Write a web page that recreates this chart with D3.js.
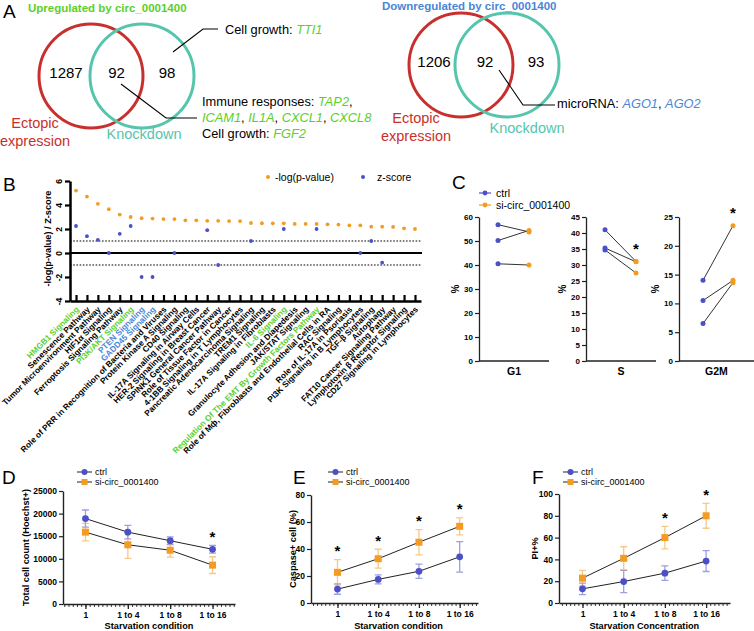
<!DOCTYPE html>
<html><head><meta charset="utf-8">
<script src="https://cdn.jsdelivr.net/npm/d3@7"></script>
<style>
body{margin:0;background:#fff;}
svg{display:block;font-family:"Liberation Sans",Arial,Helvetica,sans-serif;}
</style></head><body>
<svg id="fig" width="754" height="631"></svg>
<script>
// ================= DATA =================
const vennSetNames = ["Ectopic", "expression", "Knockdown"];
const vennUpCounts = [1287, 92, 98];
const vennDownCounts = [1206, 92, 93];
const upTitle = "Upregulated by circ_0001400";
const downTitle = "Downregulated by circ_0001400";
const upOnlyGenes = ["TTI1"];
const upImmuneGenes = ["TAP2", "ICAM1", "IL1A", "CXCL1", "CXCL8"];
const upGrowthGenes = ["FGF2"];
const downMirnaGenes = ["AGO1", "AGO2"];

const pathways = [
  "HMGB1 Signaling", "Senescence Pathway", "Tumor Microenvironment Pathway", "HIF1\u03b1 Signaling",
  "Ferroptosis Signaling Pathway", "PI3K/AKT Signaling", "PTEN Signaling", "GADD45 Signaling",
  "Role of PRR in Recognition of Bacteria and Viruses", "Protein Kinase A Signaling", "CD40 Signaling",
  "IL-17A Signaling in Airway Cells", "HER-2 Signaling in Breast Cancer", "SPINK1 General Cancer Pathway",
  "Role of Tissue Factor in Cancer", "4-1BB Signaling in T Lymphocytes", "Pancreatic Adenocarcinoma Signaling",
  "TREM1 Signaling", "IL-17A Signaling in Fibroblasts", "IL-6 Signaling", "Granulocyte Adhesion and Diapedesis",
  "JAK/STAT Signaling", "Regulation Of The EMT By Growth Factors Pathway",
  "Role of M\u0444, Fibroblasts and Endothelial Cells in RA", "RAC Signaling", "Role of IL-17A in Psoriasis",
  "PI3K Signaling in B Lymphocytes", "TGF-\u03b2 Signaling", "Autophagy", "FAT10 Cancer Signaling Pathway",
  "Lymphotoxin \u03b2 Receptor Signaling", "CD27 Signaling in Lymphocytes"
];
const pathwayGroup = ["up","","","","","up","down","down","","","","","","","","","","","","up","","","up","","","","","","","","",""];
const negLogP = [5.2, 4.7, 4.1, 3.65, 3.2, 3.0, 2.9, 2.87, 2.83, 2.83, 2.72, 2.72, 2.68, 2.68, 2.66, 2.66,
                 2.5, 2.48, 2.47, 2.47, 2.42, 2.42, 2.42, 2.39, 2.37, 2.31, 2.31, 2.19, 2.19, 2.17, 2.06, 2.0];
const zScore = [2.25, 1.4, 1.1, 0, 1.6, 2.25, -2, -2, null, 0, null, null, 1.9, -1, null, null,
                1.0, null, null, 2.0, null, null, 2.0, null, null, null, 0, 1.0, -0.8, null, null, null];
const bYTicks = [-4, -2, 0, 2, 4, 6];
const bThresholds = [1, -1];

const groups = ["ctrl", "si-circ_0001400"];
const phases = ["G1", "S", "G2M"];
const g1Ctrl = [56.8, 50.2, 40.5];
const g1Si = [53.8, 54.4, 40.0];
const sCtrl = [41.0, 35.3, 34.7];
const sSi = [31.1, 31.0, 27.5];
const g2mCtrl = [14.0, 10.5, 6.5];
const g2mSi = [23.5, 14.0, 13.6];
const phaseMax = [60, 45, 25];
const phaseStep = [10, 5, 5];
const phaseStar = [false, true, true];

const conditions = ["1", "1 to 4", "1 to 8", "1 to 16"];
const dCtrlMean = [18900, 15900, 14000, 12100];
const dCtrlSd = [1900, 1500, 850, 850];
const dSiMean = [15900, 13100, 11900, 8600];
const dSiSd = [1950, 3000, 1550, 1850];
const dStars = [false, false, false, true];

const eCtrlMean = [10.3, 17.5, 23.5, 34.2];
const eCtrlSd = [3.8, 3.4, 5.3, 11.3];
const eSiMean = [22.7, 32.8, 45.0, 56.8];
const eSiSd = [9.4, 7.0, 9.3, 6.3];
const eStars = [true, true, true, true];

const fCtrlMean = [13.0, 19.7, 27.4, 38.5];
const fCtrlSd = [5.3, 10.2, 6.7, 9.6];
const fSiMean = [22.8, 41.0, 60.0, 80.0];
const fSiSd = [7.2, 10.6, 10.3, 11.4];
const fStars = [false, false, true, true];

// ================= STYLE =================
const BLUE = "#4b50c8", ORANGE = "#f39b22", GREEN = "#5bd02b", LBLUE = "#4a86d6",
      RED = "#c8302d", TEAL = "#55c6ad", AX = "#222";

const svg = d3.select("#fig");

function txt(g, x, y, s, o = {}) {
  const t = g.append("text").attr("x", x).attr("y", y).text(s)
    .attr("font-size", o.size || 12).attr("fill", o.fill || "#000")
    .attr("font-weight", o.weight || "normal").attr("text-anchor", o.anchor || "start");
  if (o.style) t.attr("font-style", o.style);
  if (o.transform) t.attr("transform", o.transform);
  return t;
}
function rich(g, x, y, parts, size) {
  const t = g.append("text").attr("x", x).attr("y", y).attr("font-size", size);
  parts.forEach(p => t.append("tspan").text(p[0]).attr("fill", p[1] || "#000")
    .attr("font-style", p[1] ? "italic" : "normal"));
  return t;
}
function geneParts(list, color) {
  const out = [];
  list.forEach((gname, i) => { if (i) out.push([", "]); out.push([gname, color]); });
  return out;
}

// panel letters
[["A", 3, 18], ["B", 3, 191], ["C", 452, 189], ["D", 2, 484], ["E", 293, 484], ["F", 532, 484]]
  .forEach(([l, x, y]) => txt(svg, x, y, l, { size: 19 }));

// ================= PANEL A =================
function venn(cfg) {
  const g = svg.append("g");
  g.append("circle").attr("cx", cfg.c1).attr("cy", cfg.cy).attr("r", cfg.r)
    .attr("fill", "none").attr("stroke", RED).attr("stroke-width", 3);
  g.append("circle").attr("cx", cfg.c2).attr("cy", cfg.cy).attr("r", cfg.r)
    .attr("fill", "none").attr("stroke", TEAL).attr("stroke-width", 3);
  const cx = d3.scalePoint().domain([0, 1, 2]).range(cfg.countX);
  cfg.counts.forEach((c, i) => txt(g, cx(i), cfg.cy + 2, c, { size: 15, anchor: "middle" }));
  txt(g, cfg.ectX, cfg.ectY, vennSetNames[0], { size: 14.5, anchor: "middle", fill: RED });
  txt(g, cfg.ectX, cfg.ectY + 18, vennSetNames[1], { size: 14.5, anchor: "middle", fill: RED });
  txt(g, cfg.kdX, cfg.kdY, vennSetNames[2], { size: 14.5, anchor: "middle", fill: TEAL });
  txt(g, cfg.titleX, cfg.titleY, cfg.title, { size: 11.5, weight: "bold", fill: cfg.titleColor });
  return g;
}
const gUp = venn({ c1: 91, c2: 142, cy: 76, r: 52, counts: vennUpCounts, countX: [66, 167],
  ectX: 35, ectY: 128, kdX: 144, kdY: 139, title: upTitle, titleX: 28, titleY: 12, titleColor: GREEN });
const gDown = venn({ c1: 461, c2: 507, cy: 65, r: 52, counts: vennDownCounts, countX: [434, 536],
  ectX: 416, ectY: 123, kdX: 527, kdY: 133, title: downTitle, titleX: 382, titleY: 10, titleColor: LBLUE });

const callout = d3.line();
gUp.append("path").attr("d", callout([[173, 52], [203, 29], [218, 29]])).attr("fill", "none").attr("stroke", "#000").attr("stroke-width", 1.1);
gUp.append("path").attr("d", callout([[121, 84], [166, 118], [197, 118]])).attr("fill", "none").attr("stroke", "#000").attr("stroke-width", 1.1);
gDown.append("path").attr("d", callout([[499, 70], [523, 105], [555, 105]])).attr("fill", "none").attr("stroke", "#000").attr("stroke-width", 1.1);
rich(gUp, 225, 34, [["Cell growth: "]].concat(geneParts(upOnlyGenes, GREEN)), 12.8);
rich(gUp, 202, 106, [["Immune responses: "]].concat(geneParts(upImmuneGenes.slice(0, 1), GREEN), [[","]]), 12.8);
rich(gUp, 202, 122, geneParts(upImmuneGenes.slice(1), GREEN), 12.8);
rich(gUp, 202, 138, [["Cell growth: "]].concat(geneParts(upGrowthGenes, GREEN)), 12.8);
rich(gDown, 557, 108, [["microRNA: "]].concat(geneParts(downMirnaGenes, LBLUE)), 12.8);

// ================= PANEL B =================
const gB = svg.append("g");
const bX = d3.scalePoint().domain(pathways).range([70, 421]).padding(0.55);
const bY = d3.scaleLinear().domain([-4, 6]).range([301, 181]);

bThresholds.forEach(v => gB.append("line").attr("x1", 70).attr("x2", 422).attr("y1", bY(v)).attr("y2", bY(v))
  .attr("stroke", "#000").attr("stroke-width", 1.2).attr("stroke-dasharray", "1.6,1.6"));
gB.append("line").attr("x1", 70).attr("x2", 422).attr("y1", bY(0)).attr("y2", bY(0))
  .attr("stroke", "#000").attr("stroke-width", 2);

const bYAxis = gB.append("g").attr("transform", "translate(70,0)")
  .call(d3.axisLeft(bY).tickValues(bYTicks).tickSize(5).tickSizeOuter(0).tickFormat(d => String(d)));
bYAxis.attr("font-family", null).attr("font-size", null);
bYAxis.select(".domain").attr("stroke-width", 2.5);
bYAxis.selectAll(".tick line").attr("stroke-width", 2.2);
bYAxis.selectAll(".tick text").attr("x", 0).attr("y", -8).attr("dy", 0)
  .attr("transform", "rotate(-90)").attr("text-anchor", "middle")
  .attr("font-size", 8.5).attr("font-weight", "bold");
txt(gB, 0, 0, "-log(p-value) / Z-score", { size: 9.2, weight: "bold", anchor: "middle",
  transform: `translate(51,${bY(1.2)}) rotate(-90)` });

const bXAxis = gB.append("g").attr("transform", `translate(0,${bY(-4)})`)
  .call(d3.axisBottom(bX).tickSize(-6).tickSizeOuter(0));
bXAxis.attr("font-family", null).attr("font-size", null);
bXAxis.select(".domain").attr("stroke-width", 2.5);
bXAxis.selectAll(".tick line").attr("stroke-width", 2.2);
bXAxis.selectAll(".tick text").attr("y", 0).attr("dy", 0)
  .attr("transform", "translate(3,9) rotate(-45)").attr("text-anchor", "end")
  .attr("font-size", 8.3).attr("font-weight", "bold")
  .attr("fill", (d, i) => pathwayGroup[i] === "up" ? GREEN : pathwayGroup[i] === "down" ? LBLUE : "#000");

gB.selectAll(".pv").data(negLogP).join("circle").attr("class", "pv")
  .attr("cx", (d, i) => bX(pathways[i])).attr("cy", d => bY(d)).attr("r", 1.9).attr("fill", ORANGE);
gB.selectAll(".zs").data(zScore.map((v, i) => [i, v]).filter(d => d[1] !== null)).join("circle").attr("class", "zs")
  .attr("cx", d => bX(pathways[d[0]])).attr("cy", d => bY(d[1])).attr("r", 1.9).attr("fill", BLUE);

gB.append("circle").attr("cx", 268).attr("cy", 177).attr("r", 2).attr("fill", ORANGE);
txt(gB, 275, 181, "-log(p-value)", { size: 10.5 });
gB.append("circle").attr("cx", 363).attr("cy", 177).attr("r", 2).attr("fill", BLUE);
txt(gB, 377, 181, "z-score", { size: 10.5 });

// ================= PANEL C =================
const gC = svg.append("g");
// legend
[[BLUE, 193, groups[0]], [ORANGE, 205, groups[1]]].forEach(([c, y, s]) => {
  gC.append("line").attr("x1", 479).attr("x2", 491).attr("y1", y).attr("y2", y).attr("stroke", c).attr("stroke-width", 1.2);
  gC.append("circle").attr("cx", 485).attr("cy", y).attr("r", 2.4).attr("fill", c);
  txt(gC, 496, y + 4, s, { size: 10.5 });
});
const cLayout = [
  { axisX: 479, xEnd: 549, pts: [498, 529] },
  { axisX: 586, xEnd: 656, pts: [605, 636] },
  { axisX: 679, xEnd: 754, pts: [703, 733] }
];
const cData = [[g1Ctrl, g1Si], [sCtrl, sSi], [g2mCtrl, g2mSi]];
phases.forEach((ph, k) => {
  const L = cLayout[k];
  const y = d3.scaleLinear().domain([0, phaseMax[k]]).range([361, 217]);
  const x = d3.scalePoint().domain(groups).range(L.pts);
  const g = gC.append("g");
  const ya = g.append("g").attr("transform", `translate(${L.axisX},0)`)
    .call(d3.axisLeft(y).tickValues(d3.range(0, phaseMax[k] + 0.01, phaseStep[k])).tickSize(4).tickSizeOuter(0));
  ya.attr("font-family", null).attr("font-size", null);
  ya.select(".domain").attr("stroke", AX).attr("stroke-width", 1.3);
  ya.selectAll(".tick line").attr("stroke", AX).attr("stroke-width", 1.2);
  ya.selectAll(".tick text").attr("x", -6).attr("font-size", 8).attr("font-weight", "bold");
  g.append("line").attr("x1", L.axisX).attr("x2", L.xEnd).attr("y1", 361).attr("y2", 361)
    .attr("stroke", AX).attr("stroke-width", 1.3);
  txt(g, (L.axisX + L.xEnd) / 2, 375, ph, { size: 10.5, weight: "bold", anchor: "middle" });
  txt(g, 0, 0, "%", { size: 10, weight: "bold", anchor: "middle",
    transform: `translate(${L.axisX - 20},289) rotate(-90)` });
  const [ctrl, si] = cData[k];
  ctrl.forEach((v, i) => g.append("line").attr("x1", x(groups[0])).attr("y1", y(v))
    .attr("x2", x(groups[1])).attr("y2", y(si[i])).attr("stroke", "#333").attr("stroke-width", 1));
  ctrl.forEach(v => g.append("circle").attr("cx", x(groups[0])).attr("cy", y(v)).attr("r", 2.5).attr("fill", BLUE));
  si.forEach(v => g.append("circle").attr("cx", x(groups[1])).attr("cy", y(v)).attr("r", 2.5).attr("fill", ORANGE));
  if (phaseStar[k]) txt(g, x(groups[1]), y(d3.max(si)) - 16 + 8.5, "*", { size: 15, weight: "bold", anchor: "middle" });
});

// ================= PANELS D-F =================
const lineDefs = [
  { ctrlM: dCtrlMean, ctrlS: dCtrlSd, siM: dSiMean, siS: dSiSd, stars: dStars, yMax: 25000, yStep: 5000,
    yTitle: "Total cell count (Hoechst+)", xTitle: "Starvation condition",
    axisX: 63, xEnd: 235, top: 491, bottom: 604, xDom: [0.47, 4.53], legX: 77, yTitleX: 29 },
  { ctrlM: eCtrlMean, ctrlS: eCtrlSd, siM: eSiMean, siS: eSiSd, stars: eStars, yMax: 80, yStep: 20,
    yTitle: "Caspase+ cell (%)", xTitle: "Starvation condition",
    axisX: 311, xEnd: 478, top: 495, bottom: 603, xDom: [0.35, 4.45], legX: 328, yTitleX: 296 },
  { ctrlM: fCtrlMean, ctrlS: fCtrlSd, siM: fSiMean, siS: fSiSd, stars: fStars, yMax: 100, yStep: 20,
    yTitle: "PI+%", xTitle: "Starvation Concentration",
    axisX: 559, xEnd: 730, top: 494, bottom: 603, xDom: [0.43, 4.58], legX: 563, yTitleX: 538 }
];
lineDefs.forEach(P => {
  const g = svg.append("g");
  const x = d3.scaleLinear().domain(P.xDom).range([P.axisX, P.xEnd]);
  const y = d3.scaleLinear().domain([0, P.yMax]).range([P.bottom, P.top]);
  const pos = conditions.map((c, i) => i + 1);
  // axes
  const ya = g.append("g").attr("transform", `translate(${P.axisX},0)`)
    .call(d3.axisLeft(y).tickValues(d3.range(0, P.yMax + 1, P.yStep)).tickSize(4).tickSizeOuter(0).tickFormat(d3.format("d")));
  ya.attr("font-family", null).attr("font-size", null);
  ya.select(".domain").attr("stroke", AX).attr("stroke-width", 1.4);
  ya.selectAll(".tick line").attr("stroke", AX).attr("stroke-width", 1.2);
  ya.selectAll(".tick text").attr("x", -6).attr("font-size", 8.5).attr("font-weight", "bold");
  const minor = d3.range(Math.ceil(P.xDom[0] * 10), Math.floor(P.xDom[1] * 10) + 1).map(v => v / 10);
  const xm = g.append("g").attr("transform", `translate(0,${P.bottom})`)
    .call(d3.axisBottom(x).tickValues(minor).tickSize(3).tickSizeOuter(0).tickFormat(""));
  xm.select(".domain").attr("stroke", AX).attr("stroke-width", 1.4);
  xm.selectAll(".tick line").attr("stroke", AX).attr("stroke-width", 0.9);
  const xa = g.append("g").attr("transform", `translate(0,${P.bottom})`)
    .call(d3.axisBottom(x).tickValues(pos).tickSize(5).tickSizeOuter(0).tickFormat((d, i) => conditions[i]));
  xa.attr("font-family", null).attr("font-size", null);
  xa.select(".domain").remove();
  xa.selectAll(".tick line").attr("stroke", AX).attr("stroke-width", 1.3);
  xa.selectAll(".tick text").attr("font-size", 8.5).attr("font-weight", "bold").attr("y", 8);
  txt(g, x(2.5), 629, P.xTitle, { size: 9.2, weight: "bold", anchor: "middle" });
  txt(g, 0, 0, P.yTitle, { size: 9.2, weight: "bold", anchor: "middle",
    transform: `translate(${P.yTitleX},${(P.top + P.bottom) / 2}) rotate(-90)` });
  // series
  const series = [
    { m: P.ctrlM, s: P.ctrlS, c: BLUE, shape: "circle" },
    { m: P.siM, s: P.siS, c: ORANGE, shape: "square" }
  ];
  series.forEach(S => {
    S.m.forEach((v, i) => {
      const cx = x(pos[i]);
      g.append("path").attr("d", `M${cx},${y(v - S.s[i])}V${y(v + S.s[i])}M${cx - 3.5},${y(v - S.s[i])}H${cx + 3.5}M${cx - 3.5},${y(v + S.s[i])}H${cx + 3.5}`)
        .attr("stroke", S.c).attr("stroke-opacity", 0.55).attr("stroke-width", 1.3).attr("fill", "none");
    });
  });
  series.forEach(S => {
    g.append("path").attr("d", d3.line()(S.m.map((v, i) => [x(pos[i]), y(v)])))
      .attr("fill", "none").attr("stroke", "#222").attr("stroke-width", 1);
  });
  series.forEach(S => {
    S.m.forEach((v, i) => {
      if (S.shape === "circle") g.append("circle").attr("cx", x(pos[i])).attr("cy", y(v)).attr("r", 3.4).attr("fill", S.c);
      else g.append("rect").attr("x", x(pos[i]) - 3.5).attr("y", y(v) - 3.5).attr("width", 7).attr("height", 7).attr("fill", S.c);
    });
  });
  P.stars.forEach((st, i) => {
    if (!st) return;
    const top = Math.max(P.ctrlM[i] + P.ctrlS[i], P.siM[i] + P.siS[i]);
    txt(g, x(pos[i]), y(top) - 12 + 8.5, "*", { size: 15, weight: "bold", anchor: "middle" });
  });
  // legend
  series.forEach((S, k) => {
    const ly = 472 + k * 10;
    g.append("line").attr("x1", P.legX).attr("x2", P.legX + 15).attr("y1", ly).attr("y2", ly).attr("stroke", "#222").attr("stroke-width", 1);
    if (S.shape === "circle") g.append("circle").attr("cx", P.legX + 7.5).attr("cy", ly).attr("r", 3).attr("fill", S.c);
    else g.append("rect").attr("x", P.legX + 4.5).attr("y", ly - 3).attr("width", 6).attr("height", 6).attr("fill", S.c);
    txt(g, P.legX + 18, ly + 3.3, groups[k], { size: 9 });
  });
});
</script>
</body></html>
